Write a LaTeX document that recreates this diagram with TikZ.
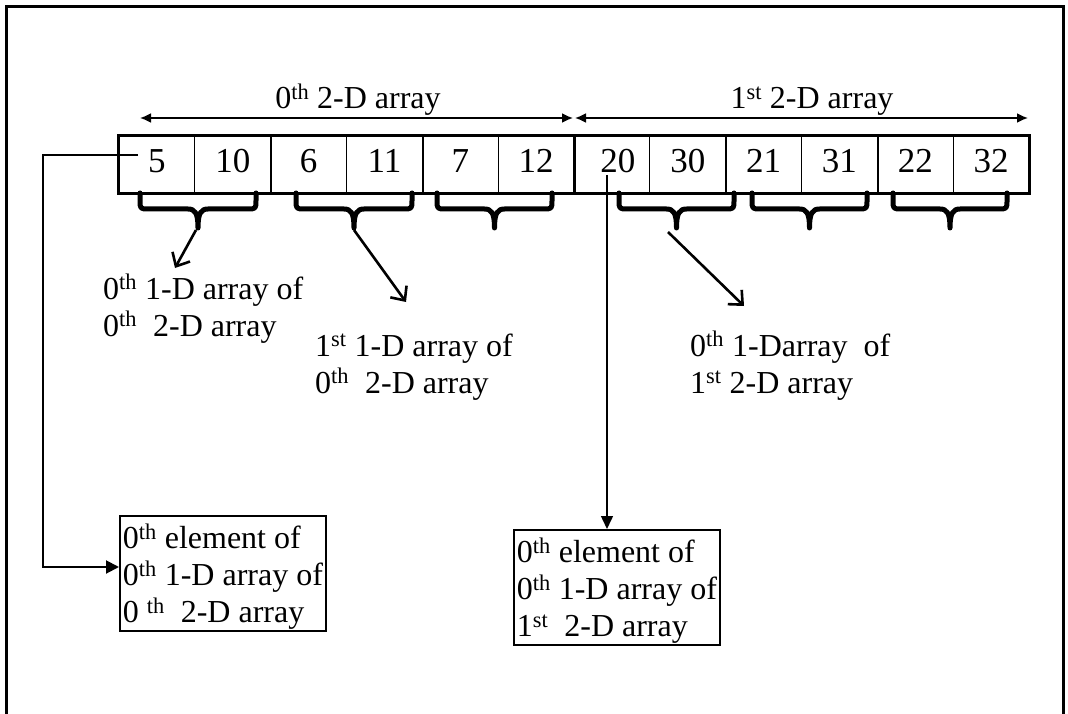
\documentclass[tikz,border=0pt]{standalone}
\usepackage{fontspec}
\setmainfont{Liberation Serif}
\usetikzlibrary{arrows.meta}
\newcommand{\sth}{\textsuperscript{th}}
\newcommand{\sst}{\textsuperscript{st}}
\newcommand{\mybrace}[2]{%
 \pgfmathsetmacro{\brmid}{(#1+#2)/2}%
 \draw[bracestyle] (#1,193) -- (#1,200) .. controls (#1,209) .. ({#1+9},209) -- ({\brmid-10},209) .. controls ({\brmid-3},209) and (\brmid,213) .. (\brmid,228) .. controls (\brmid,213) and ({\brmid+3},209) .. ({\brmid+10},209) -- ({#2-9},209) .. controls (#2,209) .. (#2,200) -- (#2,193);}
\tikzset{
 cellbox/.style={draw, line width=1.2pt, minimum width=75.833pt, minimum height=57pt, inner sep=0pt,
   text height=25pt, text depth=9pt, font=\fontsize{35}{40}\selectfont},
 bracestyle/.style={line width=5pt, line join=round, line cap=round},
 txt/.style={font=\fontsize{32}{37}\selectfont, inner sep=0pt, anchor=base west},
 boxed/.style={draw, line width=1.8pt, font=\fontsize{32}{37}\selectfont, inner xsep=3pt, inner ysep=2pt,
   text height=31pt, text depth=80pt, anchor=north west},
 toparrow/.style={line width=1.8pt, {Latex[length=11pt,width=10pt]}-{Latex[length=11pt,width=10pt]}},
 barb/.style={line width=2.6pt, -{Straight Barb[length=11pt,width=20pt,line width=2.6pt]}},
 conn/.style={line width=2pt, -{Triangle[length=13pt,width=13pt]}},
 thinconn/.style={line width=1.5pt, -{Triangle[length=13pt,width=12pt]}}
}
\begin{document}
\begin{tikzpicture}[x=1pt,y=-1pt]
\useasboundingbox (0,0) rectangle (1068,714);
% frame
\draw[line width=3pt] (6,716) -- (6,7) -- (1063,7) -- (1063,716);
% cells
\foreach \v [count=\i] in {5,10,6,11,7,12,{\hspace*{12pt}20},30,21,31,22,32}
  \node[cellbox] (c\i) at ({119+(\i-0.5)*75.8333},164.5) {\v};
\draw[line width=2pt] (c1.north west) rectangle (c12.south east);
\foreach \i in {2,4,6,8,10}
  \draw[line width=2pt] (c\i.north east) -- (c\i.south east);
% top double arrows
\coordinate (L0) at (140,118);
\coordinate (M0) at (573,118);
\coordinate (M1) at (575,118);
\coordinate (R1) at (1028,118);
\draw[toparrow] (L0) -- (M0);
\draw[toparrow] (M1) -- (R1);
\node[font=\fontsize{32}{37}\selectfont, inner sep=0pt, anchor=base] (t0) at (358,109) {0\sth\ 2-D array};
\node[font=\fontsize{32}{37}\selectfont, inner sep=0pt, anchor=base] (t1) at (812,109) {1\sst\ 2-D array};
% braces
\mybrace{140}{256}
\mybrace{296}{412}
\mybrace{437}{552}
\mybrace{619}{734}
\mybrace{752}{867}
\mybrace{893}{1007}
\coordinate (b1) at (196,230);
\coordinate (b2) at (354,230);
\coordinate (b4) at (668,232);
% labels
\node[txt] (l1) at (103,299) {\begin{tabular}[t]{@{}l@{}}0\sth\ 1-D array of\\0\sth\ \ 2-D array\end{tabular}};
\node[txt] (l2) at (315,356) {\begin{tabular}[t]{@{}l@{}}1\sst\ 1-D array of\\0\sth\ \ 2-D array\end{tabular}};
\node[txt] (l3) at (690,356) {\begin{tabular}[t]{@{}l@{}}0\sth\ 1-Darray\ \ of\\1\sst\ 2-D array\end{tabular}};
\coordinate (e1) at (175,268);
\coordinate (e2) at (406,302);
\coordinate (e4) at (744,306);
\draw[barb] (b1) -- (e1);
\draw[barb] (b2) -- (e2);
\draw[barb] (b4) -- (e4);
% boxes
\node[boxed] (box1) at (119,515) {\begin{tabular}[t]{@{}l@{}}0\sth\ element of\\0\sth\ 1-D array of\\0 \sth\ \ 2-D array\end{tabular}};
\node[boxed] (box2) at (513,529) {\begin{tabular}[t]{@{}l@{}}0\sth\ element of\\0\sth\ 1-D array of\\1\sst\ \ 2-D array\end{tabular}};
% connectors
\coordinate (s5) at (138,155);
\coordinate (k1) at (43,155);
\coordinate (k2) at (43,567);
\draw[conn] (s5) -- (k1) -- (k2) -- (k2 -| box1.west);
\coordinate (s20) at (607,175);
\draw[thinconn] (s20) -- (s20 |- box2.north);
\end{tikzpicture}
\end{document}
